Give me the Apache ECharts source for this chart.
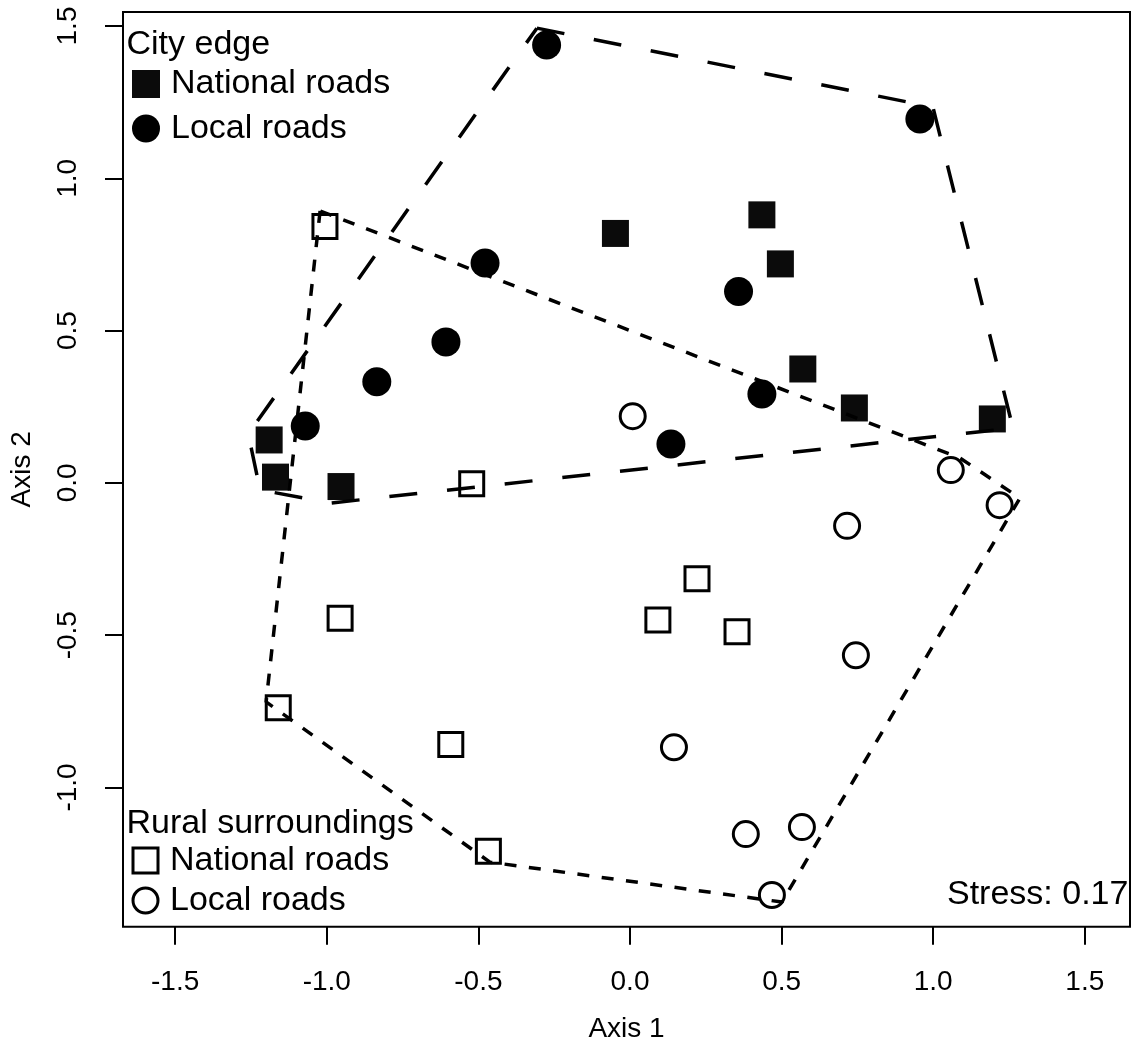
<!DOCTYPE html>
<html>
<head>
<meta charset="utf-8">
<script src="https://cdn.jsdelivr.net/npm/echarts@6/dist/echarts.min.js"></script>
<style>
html, body { margin: 0; padding: 0; background: #fff; }
#chart { width: 1137px; height: 1046px; }
</style>
</head>
<body>
<div id="chart"></div>
<script>
// NMDS scores, [axis 1, axis 2]
var cityNational = [[-1.190, 0.141], [-1.169, 0.019], [-0.953, -0.012], [-0.048, 0.819], [0.435, 0.880],
    [0.496, 0.719], [0.570, 0.374], [0.740, 0.246], [1.195, 0.210]];
var cityLocal = [[-1.071, 0.187], [-0.835, 0.332], [-0.607, 0.463], [-0.478, 0.722], [-0.275, 1.438],
    [0.135, 0.128], [0.358, 0.628], [0.435, 0.292], [0.956, 1.195]];
var ruralNational = [[-1.006, 0.842], [-0.522, -0.003], [-0.956, -0.444], [-1.160, -0.738], [-0.591, -0.859],
    [-0.467, -1.209], [0.092, -0.450], [0.221, -0.315], [0.353, -0.489]];
var ruralLocal = [[0.009, 0.219], [1.058, 0.042], [1.219, -0.073], [0.716, -0.141], [0.745, -0.566],
    [0.145, -0.868], [0.382, -1.153], [0.567, -1.130], [0.468, -1.353]];

// hull corners (as drawn, slightly outside the points)
var cityHull = [[-0.307, 1.493], [0.999, 1.234], [1.263, 0.180], [-0.986, -0.066], [-1.220, -0.023], [-1.259, 0.161]];
var ruralHull = [[-1.022, 0.893], [-1.200, -0.719], [-0.462, -1.245], [0.501, -1.376], [1.286, -0.050], [1.088, 0.082]];

var xTicks = [-1.5, -1.0, -0.5, 0.0, 0.5, 1.0, 1.5];
var yTicks = [-1.0, -0.5, 0.0, 0.5, 1.0, 1.5];
var groupTitles = ['City edge', 'Rural surroundings'];
var stressLabel = 'Stress: 0.17';

var FONT = '"Liberation Sans", Arial, Helvetica, sans-serif';

function closed(pts) {
    return pts.concat([pts[0]]);
}
function shortName(name) {
    return name.split(' - ')[1];
}

var chart = echarts.init(document.getElementById('chart'), null, { renderer: 'canvas' });

var option = {
    animation: false,
    backgroundColor: '#fff',
    textStyle: { fontFamily: FONT, color: '#000' },
    grid: {
        left: 123, right: 7, top: 12, bottom: 119.3,
        show: true, borderColor: '#000', borderWidth: 2,
        outerBoundsMode: 'none', containLabel: false
    },
    xAxis: {
        type: 'value', min: -1.672, max: 1.649,
        name: 'Axis 1', nameLocation: 'middle', nameGap: 89,
        nameTextStyle: { fontSize: 28, color: '#000', fontFamily: FONT },
        axisLine: { show: false, onZero: false },
        splitLine: { show: false },
        axisTick: { show: true, inside: false, length: 18, customValues: xTicks, lineStyle: { color: '#000', width: 2 } },
        axisLabel: {
            customValues: xTicks, margin: 42, fontSize: 28, color: '#000', fontFamily: FONT,
            formatter: function (v) { return v.toFixed(1); }
        }
    },
    yAxis: {
        type: 'value', min: -1.457, max: 1.546,
        name: 'Axis 2', nameLocation: 'middle', nameGap: 87, nameRotate: 90,
        nameTextStyle: { fontSize: 28, color: '#000', fontFamily: FONT },
        axisLine: { show: false, onZero: false },
        splitLine: { show: false },
        axisTick: { show: true, inside: false, length: 18, customValues: yTicks, lineStyle: { color: '#000', width: 2 } },
        axisLabel: {
            customValues: yTicks, margin: 41, rotate: 90, fontSize: 28, color: '#000', fontFamily: FONT,
            formatter: function (v) { return v.toFixed(1); }
        }
    },
    legend: [{
        data: ['City edge - National roads', 'City edge - Local roads'],
        orient: 'vertical', left: 132, top: 67, padding: 0,
        itemWidth: 28, itemHeight: 28, itemGap: 10.5,
        selectedMode: false,
        itemStyle: { borderWidth: 0, opacity: 1 },
        textStyle: { fontSize: 34, color: '#000', fontFamily: FONT, lineHeight: 28, padding: [0, 0, 0, 6] },
        formatter: shortName
    }, {
        data: ['Rural surroundings - National roads', 'Rural surroundings - Local roads'],
        orient: 'vertical', left: 131.5, top: 843.5, padding: 0,
        itemWidth: 25, itemHeight: 25, itemGap: 6,
        selectedMode: false,
        itemStyle: { borderWidth: 3, borderColor: '#000', opacity: 1 },
        textStyle: { fontSize: 34, color: '#000', fontFamily: FONT, lineHeight: 25, padding: [0, 0, 0, 7] },
        formatter: shortName
    }],
    graphic: [
        { type: 'text', left: 126.5, top: 44.5 - 17, style: { text: groupTitles[0], fill: '#000', font: '34px ' + FONT } },
        { type: 'text', left: 126.5, top: 823.4 - 17, style: { text: groupTitles[1], fill: '#000', font: '34px ' + FONT } },
        { type: 'text', right: 1137 - 1128.4, top: 895 - 17, style: { text: stressLabel, fill: '#000', font: '34px ' + FONT } }
    ],
    series: [
        {
            name: 'City edge - National roads', type: 'scatter', data: cityNational,
            symbol: 'rect', symbolSize: 27, itemStyle: { color: '#0b0b0b', opacity: 1 }, z: 3, silent: true
        },
        {
            name: 'City edge - Local roads', type: 'scatter', data: cityLocal,
            symbol: 'circle', symbolSize: 29, itemStyle: { color: '#000', opacity: 1 }, z: 3, silent: true
        },
        {
            name: 'Rural surroundings - National roads', type: 'scatter', data: ruralNational,
            symbol: 'rect', symbolSize: 24,
            itemStyle: { color: 'rgba(255,255,255,0)', borderColor: '#000', borderWidth: 3, opacity: 1 }, z: 3, silent: true
        },
        {
            name: 'Rural surroundings - Local roads', type: 'scatter', data: ruralLocal,
            symbol: 'circle', symbolSize: 25,
            itemStyle: { color: 'rgba(255,255,255,0)', borderColor: '#000', borderWidth: 3, opacity: 1 }, z: 3, silent: true
        },
        {
            name: 'cityHull', type: 'line', data: closed(cityHull), symbol: 'none', z: 4, silent: true,
            lineStyle: { color: '#000', width: 3.5, type: [28, 30], cap: 'butt' }
        },
        {
            name: 'ruralHull', type: 'line', data: closed(ruralHull), symbol: 'none', z: 4, silent: true,
            lineStyle: { color: '#000', width: 3.5, type: [12, 12.5], cap: 'butt' }
        }
    ]
};

chart.setOption(option);
</script>
</body>
</html>
